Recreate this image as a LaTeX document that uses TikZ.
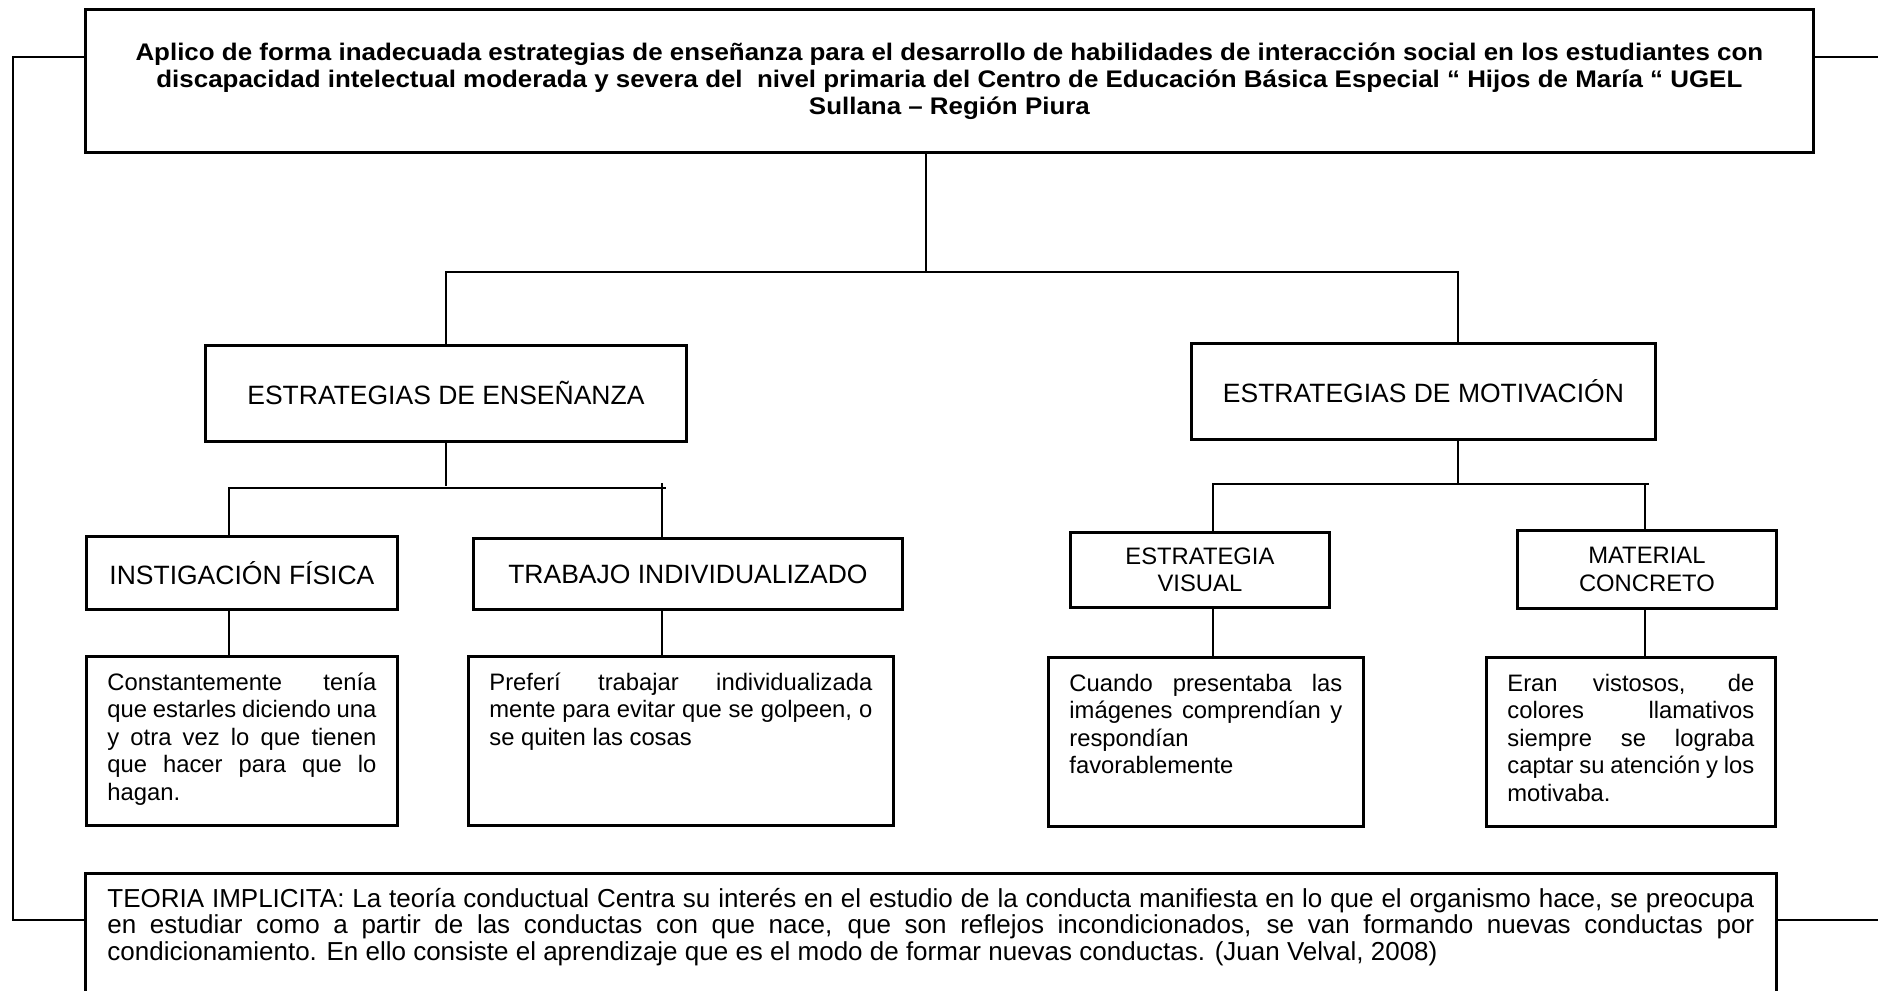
\documentclass[tikz,border=0pt]{standalone}
\usepackage{fontspec}
\setmainfont{Liberation Sans}
\newfontfamily\titulofont{Liberation Sans}[FakeStretch=1.08]
\usepackage{tikz}
\usetikzlibrary{calc}

\newcommand{\fuentecaja}{\fontsize{11.9}{13.75}\selectfont}
\newcommand{\fuentecab}{\fontsize{13.25}{15}\selectfont}
\newcommand{\textocaja}[3]{\parbox[t][#1][t]{#2}{\fuentecaja\hyphenpenalty=10000\rule{0pt}{9pt}#3}}

\tikzset{
  caja/.style={draw, line width=1.4pt, inner sep=0pt, anchor=north west},
  cabecera/.style={caja, font=\fuentecab},
  nota/.style={caja, inner xsep=10.5pt, inner ysep=7.8pt},
  linea/.style={line width=1.3pt},
}

\begin{document}
\begin{tikzpicture}[x=0.5pt,y=-0.5pt]
  \useasboundingbox (0,0) rectangle (1878,990);
  \clip (0,0) rectangle (1878,990);

  % problema
  \node[caja, inner xsep=10pt, inner ysep=15pt] (titulo) at (84,8) {\parbox[t][41.5pt][t]{844pt}{\centering\titulofont\bfseries\fontsize{12}{13.3}\selectfont\rule{0pt}{10.7pt}Aplico de forma inadecuada estrategias de enseñanza para el desarrollo de habilidades de interacción social en los estudiantes con\\ discapacidad intelectual moderada y severa del~ nivel primaria del Centro de Educación Básica Especial “ Hijos de María “ UGEL\\ Sullana – Región Piura}};

  % estrategias
  \node[cabecera, minimum width=240.5pt, minimum height=48pt] (ense) at (204,344) {ESTRATEGIAS DE ENSEÑANZA};
  \node[cabecera, minimum width=232pt, minimum height=48pt] (moti) at (1190,342) {ESTRATEGIAS DE MOTIVACIÓN};

  \node[cabecera, minimum width=155.5pt, minimum height=36.5pt] (insti) at (85,535) {INSTIGACIÓN FÍSICA};
  \node[cabecera, minimum width=214.5pt, minimum height=35.5pt] (traba) at (472,537) {TRABAJO INDIVIDUALIZADO};
  \node[caja, font=\fuentecaja, align=center, minimum width=129.5pt, minimum height=37.5pt] (visual) at (1069,531) {ESTRATEGIA\\VISUAL};
  \node[caja, font=\fuentecaja, align=center, minimum width=129.5pt, minimum height=39pt] (mate) at (1516,529) {MATERIAL\\CONCRETO};

  % notas
  \node[nota] (const) at (85,655) {\textocaja{68.9pt}{134.5pt}{Constantemente tenía\linebreak que estarles diciendo una\linebreak y otra vez lo que tienen\linebreak que hacer para que lo\linebreak hagan.}};
  \node[nota] (pref) at (467,655) {\textocaja{68.9pt}{191.5pt}{Preferí trabajar individualizada\linebreak mente para evitar que se golpeen, o\linebreak se quiten las cosas}};
  \node[nota] (cuan) at (1047,656) {\textocaja{68.9pt}{136.5pt}{Cuando presentaba las\linebreak imágenes comprendían y\linebreak respondían\linebreak favorablemente}};
  \node[nota] (eran) at (1485,656) {\textocaja{68.9pt}{123.5pt}{Eran vistosos, de\linebreak colores llamativos\linebreak siempre se lograba\linebreak captar su atención y los\linebreak motivaba.}};

  % teoria
  \node[caja, inner xsep=11pt, inner ysep=7pt] (teoria) at (84,872) {\parbox[t][61pt][t]{823.5pt}{\fontsize{13}{13.2}\selectfont\hyphenpenalty=10000\rule{0pt}{10pt}TEORIA IMPLICITA: La teoría conductual Centra su interés en el estudio de la conducta manifiesta en lo que el organismo hace, se preocupa\linebreak en estudiar como a partir de las conductas con que nace, que son reflejos incondicionados, se van formando nuevas conductas por\linebreak condicionamiento. En ello consiste el aprendizaje que es el modo de formar nuevas conductas. (Juan Velval, 2008)}};

  % conectores
  \coordinate (t1) at (926,272);
  \coordinate (m1) at (1458,272);
  \coordinate (e1) at (229,488);
  \coordinate (e2) at (666,488);
  \coordinate (e3) at (662,483);
  \coordinate (v1) at (1213,484);
  \coordinate (v2) at (1649,484);
  \coordinate (v3) at (1645,484);
  \coordinate (b1) at (13,57);
  \coordinate (b2) at (13,920);
  \coordinate (r1) at (1878,57);
  \coordinate (r2) at (1878,920);

  \draw[linea] (t1 |- titulo.south) -- (t1);
  \draw[linea] (ense.north) |- (m1) -- (m1 |- moti.north);
  \draw[linea] (ense.south) -- ++(0,43);
  \draw[linea] (e1 |- insti.north) -- (e1) -- (e2);
  \draw[linea] (e3) -- (e3 |- traba.north);
  \draw[linea] (m1 |- moti.south) -- (m1 |- v1);
  \draw[linea] (v1 |- visual.north) -- (v1) -- (v2);
  \draw[linea] (v3) -- (v3 |- mate.north);
  \draw[linea] (e1 |- insti.south) -- (e1 |- const.north);
  \draw[linea] (e3 |- traba.south) -- (e3 |- pref.north);
  \draw[linea] (v1 |- visual.south) -- (v1 |- cuan.north);
  \draw[linea] (v3 |- mate.south) -- (v3 |- eran.north);
  \draw[linea] (titulo.west |- b1) -- (b1) -- (b2) -- (teoria.west |- b2);
  \draw[linea] (titulo.east |- r1) -- (r1);
  \draw[linea] (teoria.east |- r2) -- (r2);
\end{tikzpicture}
\end{document}
